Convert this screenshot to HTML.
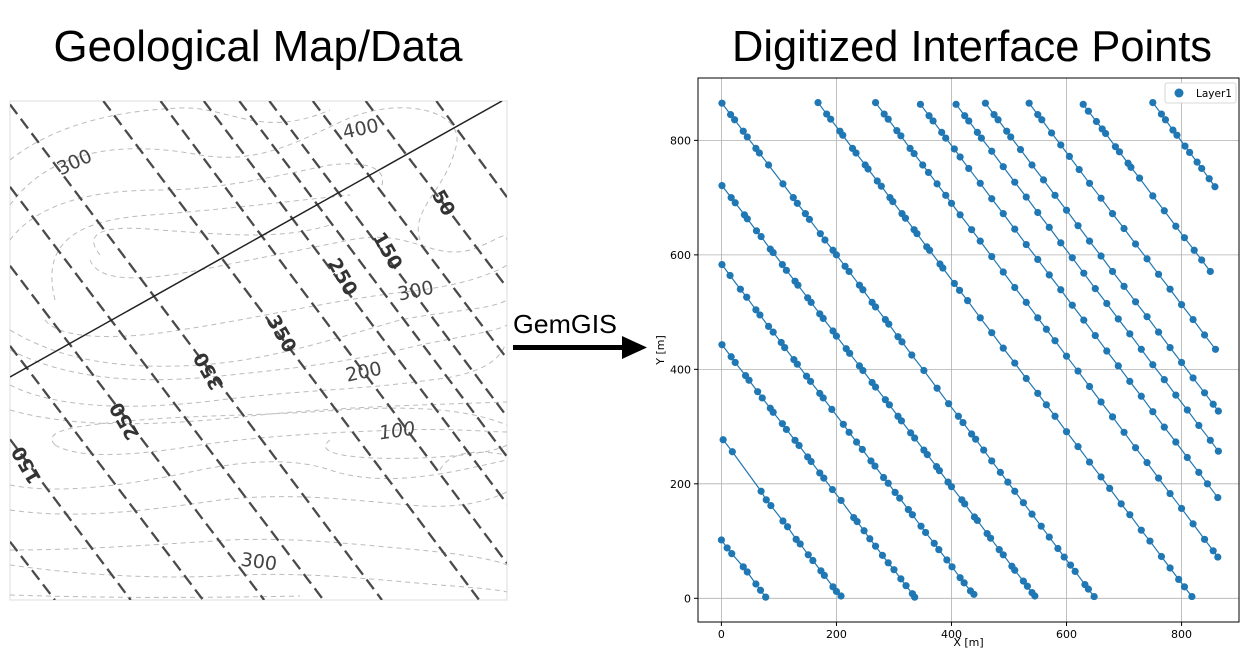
<!DOCTYPE html>
<html><head><meta charset="utf-8"><style>
html,body{margin:0;padding:0;background:#fff;width:1244px;height:650px;overflow:hidden}
svg{display:block}
text{font-family:"DejaVu Sans","Liberation Sans",sans-serif}
</style></head><body>
<svg id="s" width="1244" height="650" viewBox="0 0 1244 650">
<text x="258" y="61" font-size="44" text-anchor="middle" textLength="409" lengthAdjust="spacingAndGlyphs" style="font-family:'Liberation Sans',sans-serif">Geological Map/Data</text>
<text x="972" y="61" font-size="44" text-anchor="middle" textLength="480" lengthAdjust="spacingAndGlyphs" style="font-family:'Liberation Sans',sans-serif">Digitized Interface Points</text>
<text x="513" y="333" font-size="26" textLength="104" lengthAdjust="spacingAndGlyphs" style="font-family:'Liberation Sans',sans-serif">GemGIS</text>
<g><rect x="513" y="345" width="112" height="5" fill="#000"/><polygon points="622,336 647,347.5 622,359" fill="#000"/></g>
<defs><clipPath id="mapclip"><rect x="10" y="101" width="497" height="499"/></clipPath>
<clipPath id="plotclip"><rect x="698" y="78" width="541" height="544"/></clipPath></defs>
<g id="map">
<rect x="10" y="101" width="497" height="499" fill="#fff" stroke="#ddd" stroke-width="1"/>
<g clip-path="url(#mapclip)" id="mapinner">
<g fill="none" stroke="#bbb" stroke-width="1" stroke-dasharray="5,4">
<path d="M10,160 C60,120 130,110 180,108 C230,106 260,140 330,110"/>
<path d="M10,205 C50,150 120,140 200,155 C260,165 300,140 345,120 C400,95 470,110 455,150 C445,190 410,210 420,240"/>
<path d="M10,240 C40,200 100,190 160,190 C220,190 280,175 330,165 C370,160 390,170 380,190"/>
<path d="M55,300 C40,240 80,220 150,215 C220,210 300,200 350,195"/>
<path d="M100,255 C80,230 110,225 160,230 C230,235 280,240 330,225"/>
<path d="M90,260 C100,285 150,280 210,268 C260,258 300,250 350,240 C410,228 430,260 470,250 C500,240 505,230 507,240"/>
<path d="M45,320 C60,340 120,340 180,330 C260,318 330,300 420,290 C470,284 500,270 507,265"/>
<path d="M10,330 C60,360 120,370 200,365 C270,360 330,340 400,320 C450,310 490,310 507,300"/>
<path d="M10,350 C70,380 140,385 230,375 C300,368 360,360 420,345 C470,335 500,330 507,325"/>
<path d="M10,385 C60,410 140,410 220,400 C300,390 360,390 430,380 C480,375 500,360 505,345"/>
<path d="M10,410 C80,430 170,425 260,415 C340,407 420,405 507,402"/>
<path d="M55,445 C40,430 80,425 140,420 C200,415 280,415 340,410 C420,405 470,410 507,425"/>
<path d="M55,445 C80,460 140,455 200,445 C270,435 340,432 400,430 C450,428 490,432 507,432"/>
<path d="M10,485 C60,495 130,485 200,470 C260,458 300,460 330,470 C390,490 460,470 507,460"/>
<path d="M330,440 C310,455 360,460 420,458 C470,456 500,450 507,445"/>
<path d="M10,510 C80,520 150,510 220,500 C290,492 350,500 410,505 C460,510 490,500 507,492"/>
<path d="M10,550 C80,550 150,545 230,540 C300,537 360,545 420,550 C470,555 495,560 507,565"/>
<path d="M10,565 C80,575 160,580 240,575 C310,572 380,580 440,585 C480,588 500,590 507,592"/>
<path d="M10,595 C100,598 200,598 300,596"/>
<path d="M440,470 C450,450 480,450 507,455"/>
</g>
<g id="mapfaults" fill="none" stroke="#4a4a4a" stroke-width="2.3" stroke-dasharray="12,6"></g>
<line x1="10" y1="377" x2="502" y2="101" stroke="#222" stroke-width="1.5"/>
<g font-size="19" fill="#444" style="font-family:'Liberation Sans',sans-serif">
<text transform="translate(77,168) rotate(-25)" text-anchor="middle">300</text>
<text transform="translate(362,135) rotate(-12)" text-anchor="middle">400</text>
<text transform="translate(417,297) rotate(-12)" text-anchor="middle">300</text>
<text transform="translate(365,378) rotate(-12)" text-anchor="middle">200</text>
<text transform="translate(398,437) rotate(-8)" text-anchor="middle" font-style="italic">100</text>
<text transform="translate(258,568) rotate(8)" text-anchor="middle">300</text>
<g font-weight="bold" fill="#333">
<text transform="translate(438,206) rotate(60)" text-anchor="middle">50</text>
<text transform="translate(382,254) rotate(60)" text-anchor="middle">150</text>
<text transform="translate(337,280) rotate(60)" text-anchor="middle">250</text>
<text transform="translate(276,337) rotate(60)" text-anchor="middle">350</text>
<text transform="translate(214,368) rotate(240)" text-anchor="middle">350</text>
<text transform="translate(130,418) rotate(240)" text-anchor="middle">250</text>
<text transform="translate(32,462) rotate(240)" text-anchor="middle">150</text>
</g></g>
</g></g>
<g id="plot"></g>
</svg>
<script>
const line1=[[0,102],[10,88],[18,78],[38,55],[45,46],[60,25],[68,14],[77,2]];
const line2=[[3,277],[19,256],[69,187],[78,172],[86,162],[107,135],[115,125],[130,103],[137,95],[151,76],[159,66],[173,48],[179,40],[194,20],[200,12],[208,4]];
const line3=[[1,443],[17,422],[24,412],[42,389],[48,381],[63,361],[71,350],[85,332],[90,325],[106,305],[113,295],[128,276],[135,267],[150,247],[156,239],[171,219],[178,210],[193,190],[208,171],[230,141],[236,134],[248,118],[258,104],[268,91],[280,75],[290,62],[300,50],[312,34],[321,22],[332,8],[336,2]];
const line4=[[1,583],[15,564],[33,540],[44,526],[60,504],[67,495],[82,475],[90,465],[104,447],[110,438],[126,417],[132,409],[148,388],[155,379],[171,358],[177,350],[192,330],[212,304],[222,290],[235,273],[245,260],[260,240],[267,231],[282,211],[290,201],[302,185],[310,175],[325,155],[332,146],[347,126],[355,115],[370,96],[378,85],[392,67],[401,55],[415,36],[422,27],[433,13],[439,7]];
const line5=[[1,721],[17,700],[24,691],[40,670],[45,663],[61,642],[69,632],[85,610],[90,604],[106,583],[113,573],[128,554],[133,547],[150,525],[156,517],[171,497],[177,489],[194,467],[200,458],[217,436],[223,428],[240,406],[246,398],[262,377],[268,369],[285,347],[292,338],[307,318],[313,310],[329,289],[336,280],[352,259],[358,251],[374,230],[379,223],[394,203],[400,195],[418,172],[423,165],[440,142],[445,136],[462,113],[468,105],[483,85],[490,76],[505,56],[510,49],[525,30],[532,21],[540,10],[545,4]];
const line6=[[1,865],[16,845],[23,836],[38,816],[45,806],[60,786],[66,778],[82,757],[107,724],[125,700],[132,690],[146,672],[153,662],[172,637],[180,626],[194,608],[200,600],[215,580],[222,571],[240,547],[246,539],[262,517],[268,509],[285,487],[291,479],[307,457],[314,448],[331,425],[352,398],[375,367],[395,340],[412,318],[420,307],[435,287],[442,278],[456,259],[470,240],[485,220],[498,203],[510,187],[525,167],[540,147],[556,126],[570,107],[585,87],[596,72],[607,58],[615,47],[632,24],[638,16],[648,3]];
const line7=[[168,866],[183,846],[190,837],[206,816],[211,809],[228,786],[234,778],[250,757],[255,750],[271,729],[278,720],[293,700],[298,693],[314,672],[320,664],[335,644],[340,637],[357,614],[362,608],[380,584],[385,577],[405,550],[414,538],[428,520],[450,490],[470,464],[490,437],[510,411],[530,384],[550,358],[565,338],[580,318],[600,291],[620,265],[640,238],[660,212],[675,192],[695,165],[710,146],[730,119],[745,100],[765,73],[780,53],[795,33],[805,20],[818,3]];
const line8=[[268,866],[283,846],[290,837],[305,817],[312,808],[328,786],[335,777],[350,757],[360,744],[375,724],[390,704],[400,690],[415,670],[435,644],[450,624],[470,597],[490,570],[510,543],[530,517],[550,490],[565,470],[580,450],[600,423],[620,397],[640,370],[660,343],[680,317],[700,290],[720,263],[740,237],[760,210],[780,183],[800,157],[820,130],[840,103],[855,83],[863,72]];
const line9=[[346,863],[361,843],[368,834],[383,814],[390,804],[405,785],[415,771],[430,751],[450,725],[470,698],[490,672],[510,645],[530,618],[550,592],[570,565],[590,539],[610,512],[630,486],[650,459],[670,432],[690,406],[710,379],[730,353],[750,326],[770,299],[790,273],[810,246],[830,220],[845,200],[863,176]];
const line10=[[408,863],[423,843],[430,834],[445,814],[452,804],[470,781],[490,754],[510,727],[530,701],[550,674],[570,648],[590,621],[610,595],[630,568],[650,541],[670,515],[690,488],[710,462],[730,435],[750,408],[770,382],[790,355],[810,329],[830,302],[850,276],[864,257]];
const line11=[[459,865],[474,845],[481,836],[496,816],[503,806],[520,784],[540,757],[560,731],[580,704],[600,678],[620,651],[640,624],[660,598],[680,571],[700,545],[720,518],[740,492],[760,465],[780,438],[800,412],[820,385],[840,359],[855,339],[864,327]];
const line12=[[535,865],[550,845],[557,836],[574,813],[590,792],[605,772],[622,749],[640,725],[660,699],[680,672],[700,646],[720,619],[740,593],[760,566],[780,540],[800,513],[820,487],[840,460],[859,435]];
const line13=[[629,863],[638,851],[652,833],[662,820],[668,812],[685,789],[692,780],[707,760],[712,753],[727,734],[750,703],[770,677],[790,650],[805,630],[822,608],[835,591],[850,571]];
const line14=[[750,866],[765,846],[772,836],[785,818],[792,809],[806,790],[814,779],[827,762],[835,751],[848,733],[858,719]];
const xTicks=[0,200,400,600,800];
const yTicks=[0,200,400,600,800];
const seriesName="Layer1";
const lines=[line1,line2,line3,line4,line5,line6,line7,line8,line9,line10,line11,line12,line13,line14];

const NS="http://www.w3.org/2000/svg";
function mk(tag,attrs,parent){const e=document.createElementNS(NS,tag);for(const k in attrs)e.setAttribute(k,attrs[k]);parent.appendChild(e);return e;}
const sx=v=>721.4+v*0.5752;
const sy=v=>598.3-v*0.5724;
const mx=v=>10+v*0.572;
const my=v=>600-v*0.572;
const color="#1f77b4";

// clip a segment to the map box (Liang-Barsky)
function clipSeg(x1,y1,x2,y2){
  const xmin=10,xmax=507,ymin=101,ymax=600;
  let t0=0,t1=1;const dx=x2-x1,dy=y2-y1;
  const p=[-dx,dx,-dy,dy],q=[x1-xmin,xmax-x1,y1-ymin,ymax-y1];
  for(let i=0;i<4;i++){
    if(p[i]===0){if(q[i]<0)return null;continue;}
    const r=q[i]/p[i];
    if(p[i]<0){if(r>t1)return null;if(r>t0)t0=r;}
    else{if(r<t0)return null;if(r<t1)t1=r;}
  }
  return [x1+t0*dx,y1+t0*dy,x1+t1*dx,y1+t1*dy];
}
const mf=document.getElementById('mapfaults');
function addFault(x1,y1,x2,y2){
  const c=clipSeg(x1,y1,x2,y2); if(!c) return;
  const l=mk('line',{x1:c[0],y1:c[1],x2:c[2],y2:c[3]},mf);
  
  
}
lines.forEach(L=>{
  const a=L[0],b=L[L.length-1];
  const dx=b[0]-a[0],dy=b[1]-a[1];
  addFault(mx(a[0]-dx*0.6),my(a[1]-dy*0.6),mx(b[0]+dx*0.6),my(b[1]+dy*0.6));
});
[[950,866,1150,600],[1030,866,1230,600]].forEach(s=>{
  addFault(mx(s[0]-300),my(s[1]+400),mx(s[2]),my(s[3]));
});

const P=document.getElementById('plot');
const L=698,T=78,R=1239,B=622;
const grid=mk('g',{stroke:'#b0b0b0','stroke-width':0.8},P);


xTicks.forEach(t=>{
  mk('line',{x1:sx(t),x2:sx(t),y1:T,y2:B},grid);
  mk('line',{x1:sx(t),x2:sx(t),y1:B,y2:B+4,stroke:'#000'},P);
  const tx=mk('text',{x:sx(t),y:B+16,'font-size':11,'text-anchor':'middle'},P);
  tx.textContent=t;
  
  
});
yTicks.forEach(t=>{
  mk('line',{y1:sy(t),y2:sy(t),x1:L,x2:R},grid);
  mk('line',{y1:sy(t),y2:sy(t),x1:L-4,x2:L,stroke:'#000'},P);
  const tx=mk('text',{x:L-7,y:sy(t)+4,'font-size':11,'text-anchor':'end'},P);
  tx.textContent=t;
  
  
});
const xt=mk('text',{x:(L+R)/2,y:646,'font-size':11,'text-anchor':'middle'},P);
xt.textContent="X [m]";


const yt=mk('text',{x:0,y:0,'font-size':11,'text-anchor':'middle',transform:'translate(664,350) rotate(-90)'},P);
yt.textContent="Y [m]";



const dg=mk('g',{'clip-path':'url(#plotclip)'},P);


lines.forEach((Ln,i)=>{
  const pl=mk('polyline',{points:Ln.map(p=>sx(p[0])+','+sy(p[1])).join(' '),fill:'none',stroke:color,'stroke-width':1.2},dg);
  
  
  Ln.forEach(p=>{
    const c=mk('circle',{cx:sx(p[0]),cy:sy(p[1]),r:3.6,fill:color},dg);
    
    
  });
});
const fr=mk('rect',{x:L,y:T,width:R-L,height:B-T,fill:'none',stroke:'#000','stroke-width':1},P);


const lg=mk('g',{},P);


mk('rect',{x:1165,y:83,width:71,height:20,rx:2,fill:'#fff',stroke:'#ccc','stroke-width':0.8},lg);
mk('circle',{cx:1179,cy:93,r:4.5,fill:color},lg);
const lt=mk('text',{x:1196,y:97,'font-size':10.5},lg);
lt.textContent=seriesName;


</script>
</body></html>
